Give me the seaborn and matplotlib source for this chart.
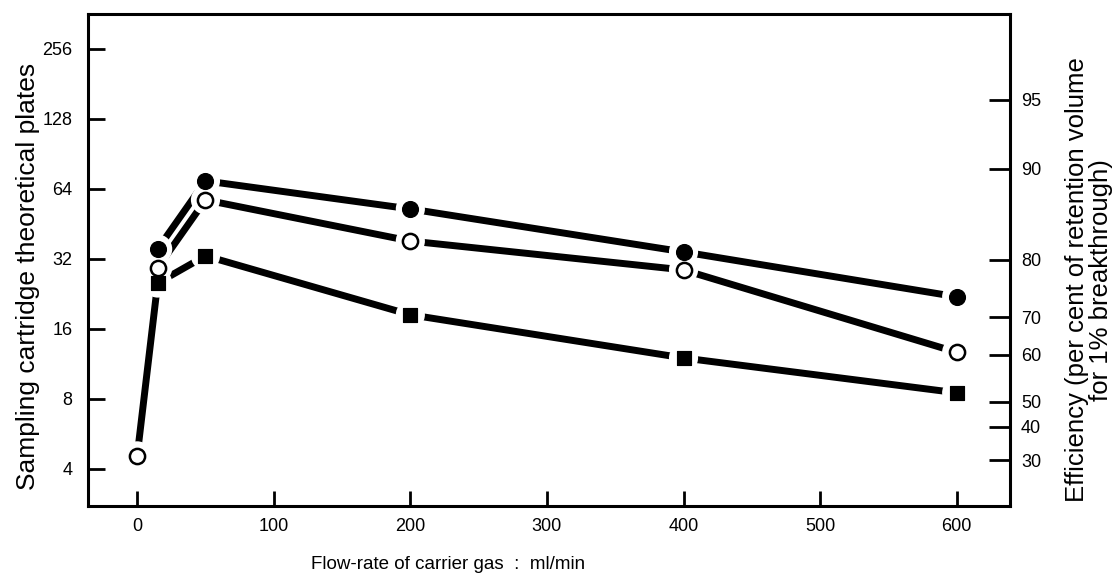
import numpy as np
import pandas as pd
import seaborn as sns
import matplotlib.pyplot as plt

# --- Data ---
flow = [0, 15, 50, 200, 400, 600]
plates_filled_circle = [None, 35.3, 69.3, 52.5, 34.3, 22.0]
plates_open_circle = [None, 29.3, 57.4, 38.2, 28.7, 12.7]
plates_square = [4.55, 25.2, 33.0, 18.4, 12.0, 8.5]
origin_flow = [0]
origin_plates = [4.55]

left_ticks = [4, 8, 16, 32, 64, 128, 256]
# efficiency labels and where they sit on the plates scale
eff_labels = ["30", "40", "50", "60", "70", "80", "90", "95"]
eff_pos = [4.36, 6.06, 7.77, 12.4, 18.0, 31.7, 78, 154.5]

rows = []
for name, vals in [("filled", plates_filled_circle), ("open", plates_open_circle), ("square", plates_square)]:
    for x, y in zip(flow, vals):
        if y is not None:
            rows.append({"flow": x, "plates": y, "series": name})
df = pd.DataFrame(rows)

sns.set_style("ticks")
plt.rcParams['font.family'] = ['Liberation Sans', 'DejaVu Sans']
plt.rcParams['text.color'] = 'black'
plt.rcParams['axes.labelcolor'] = 'black'

fig = plt.figure(figsize=(11.14, 5.78), dpi=100)
ax = fig.add_axes([0.079, 0.1246, 0.8276, 0.8512])

# --- lines ---
sns.lineplot(data=df, x="flow", y="plates", hue="series",
             palette={"filled": "black", "open": "black", "square": "black"},
             linewidth=5, legend=False, ax=ax, zorder=2)
for l in ax.lines:
    l.set_solid_capstyle("butt")

# white halo so the lines stop short of the markers
halo = pd.concat([df[df.flow > 0], pd.DataFrame({"flow": origin_flow, "plates": origin_plates})])
sns.scatterplot(data=halo, x="flow", y="plates", s=440, color="white",
                edgecolor="none", ax=ax, zorder=3, legend=False)

# --- markers ---
d = df[df.flow > 0]
sns.scatterplot(data=d[d.series == "filled"], x="flow", y="plates", s=130, marker="o",
                color="black", edgecolor="black", ax=ax, zorder=4, legend=False)
sns.scatterplot(data=d[d.series == "open"], x="flow", y="plates", s=120, marker="o",
                facecolor="white", edgecolor="black", linewidth=1.8, ax=ax, zorder=4, legend=False)
sns.scatterplot(x=origin_flow, y=origin_plates, s=120, marker="o",
                facecolor="white", edgecolor="black", linewidth=1.8, ax=ax, zorder=4, legend=False)
sns.scatterplot(data=d[d.series == "square"], x="flow", y="plates", s=110, marker="s",
                color="black", edgecolor="black", ax=ax, zorder=4, legend=False)

# --- axes ---
ax.set_yscale("log", base=2)
ax.set_ylim(2.77, 362)
ax.set_xlim(-36, 639)
ax.set_yticks(left_ticks)
ax.set_yticklabels([str(t) for t in left_ticks])
ax.minorticks_off()
ax.set_xticks([0, 100, 200, 300, 400, 500, 600])
ax.tick_params(axis="both", direction="in", width=2, colors="black", labelsize=13)
ax.tick_params(axis="y", length=12, pad=11)
ax.tick_params(axis="x", length=11, pad=9)
for s in ax.spines.values():
    s.set_visible(True)
    s.set_linewidth(2.2)
    s.set_color("black")

ax.set_xlabel("Flow-rate of carrier gas  :  ml/min", fontsize=13.5)
ax.xaxis.set_label_coords(0.39, -0.102)
ax.set_ylabel("Sampling cartridge theoretical plates", fontsize=19)
ax.yaxis.set_label_coords(-0.052, 0.467)

ax2 = ax.twinx()
ax2.set_yscale("log", base=2)
ax2.set_ylim(ax.get_ylim())
ax2.set_yticks(eff_pos)
ax2.set_yticklabels(eff_labels)
ax2.minorticks_off()
ax2.tick_params(axis="y", direction="in", length=15, width=2, pad=8, labelsize=13, colors="black")
for s in ax2.spines.values():
    s.set_visible(False)
ax2.set_ylabel("Efficiency (per cent of retention volume\nfor 1% breakthrough)",
               fontsize=18.5, linespacing=1.0, multialignment="center")
ax2.yaxis.set_label_coords(1.06, 0.46)

fig.savefig("out.png", dpi=100)
